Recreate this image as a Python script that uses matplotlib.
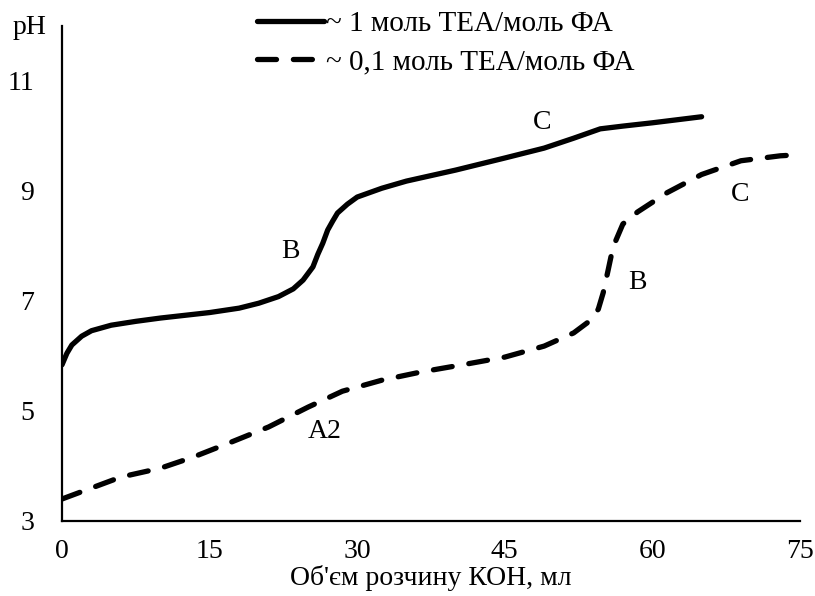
import matplotlib
matplotlib.use("Agg")
import matplotlib.pyplot as plt

# === DATOS ===
vol_1 = [0, 0.5, 1, 2, 3, 5, 7.5, 10, 12.5, 15, 18, 20, 22, 23.5, 24.5, 25.5,
         26, 26.5, 27, 27.5, 28, 29, 30, 32.5, 35, 40, 45, 49, 52, 54.7, 57, 60, 65]
ph_1 = [5.84, 6.05, 6.2, 6.36, 6.46, 6.56, 6.63, 6.69, 6.74, 6.79, 6.87, 6.96, 7.08,
        7.22, 7.38, 7.62, 7.85, 8.05, 8.29, 8.45, 8.6, 8.76, 8.89, 9.05, 9.18, 9.38,
        9.6, 9.78, 9.96, 10.13, 10.18, 10.24, 10.35]

vol_2 = [0, 3, 6, 10, 13.3, 17, 21, 25, 28.5, 32.5, 36.5, 41, 45, 49, 52, 53.5,
         54.5, 55, 55.5, 56, 57, 58.5, 61.5, 65, 69, 73, 75]
ph_2 = [3.4, 3.6, 3.8, 3.96, 4.16, 4.42, 4.71, 5.07, 5.36, 5.56, 5.71, 5.85, 5.98,
        6.18, 6.42, 6.62, 6.85, 7.15, 7.56, 7.98, 8.4, 8.62, 8.97, 9.3, 9.55, 9.64, 9.66]

labels = ["~ 1 моль ТЕА/моль ФА", "~ 0,1 моль ТЕА/моль ФА"]
x_ticks = [0, 15, 30, 45, 60, 75]
y_ticks = [3, 5, 7, 9, 11]

# === ESTILO ===
plt.rcParams['font.family'] = ['Liberation Serif', 'DejaVu Serif']

fig = plt.figure(figsize=(8.15, 5.96), dpi=100)
ax = fig.add_axes([62 / 815, 1 - 521 / 596, 738 / 815, 495 / 596])

ax.plot(vol_1, ph_1, color='black', linewidth=3.8, solid_capstyle='round',
        solid_joinstyle='round', label=labels[0])
ax.plot(vol_2, ph_2, color='black', linewidth=3.8, linestyle=(0, (3.6, 3.2)),
        dash_capstyle='round', label=labels[1])

ax.set_xlim(0, 75)
ax.set_ylim(3, 12)
ax.set_xticks(x_ticks)
ax.set_yticks(y_ticks)
ax.tick_params(axis='both', length=0, labelsize=20)
ax.tick_params(axis='y', pad=20)
ax.tick_params(axis='x', pad=13)

for s in ['top', 'right']:
    ax.spines[s].set_visible(False)
for s in ['left', 'bottom']:
    ax.spines[s].set_linewidth(1.6)

ax.set_xlabel("Об'єм розчину КОН, мл", fontsize=20)
ax.xaxis.set_label_coords(0.5, -0.088)
fig.text(30 / 815, 1 - 28 / 596, "pH", fontsize=20, ha='center', va='center')

# etiquetas de puntos
ax.text(23.2, 7.9, "B", fontsize=20, ha='center', va='center')
ax.text(48.8, 10.24, "C", fontsize=20, ha='center', va='center')
ax.text(26.7, 4.62, "A2", fontsize=20, ha='center', va='center')
ax.text(58.5, 7.33, "B", fontsize=20, ha='center', va='center')
ax.text(68.9, 8.93, "C", fontsize=20, ha='center', va='center')

leg = ax.legend(loc='upper center', bbox_to_anchor=(0.52, 1.055), frameon=False,
                fontsize=21, handlelength=2.3, handletextpad=0.05,
                labelspacing=0.4, borderaxespad=0)

fig.savefig("out.png", dpi=100)
